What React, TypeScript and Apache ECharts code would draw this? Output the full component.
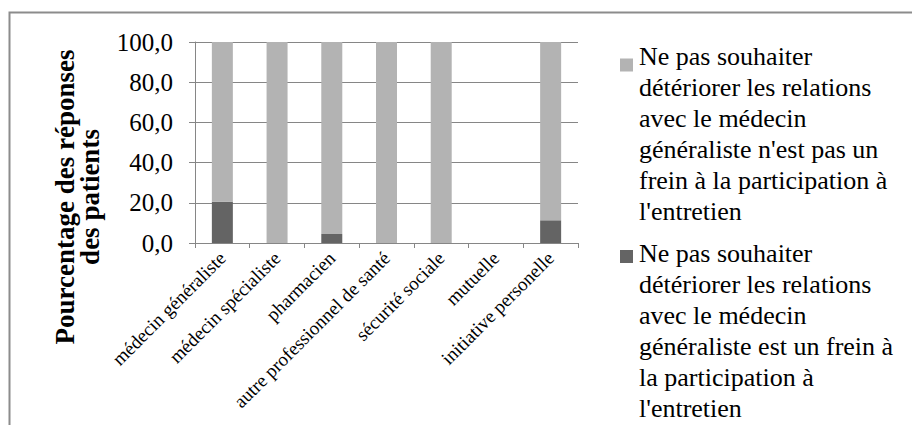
import React, { useEffect, useRef } from "react";
import * as echarts from "echarts";

const categories = [
  "médecin généraliste",
  "médecin spécialiste",
  "pharmacien",
  "autre professionnel de santé",
  "sécurité sociale",
  "mutuelle",
  "initiative personelle",
];
const freinValues = [20.6, 0, 4.5, 0, 0, 0, 11.3];
const pasFreinValues = [79.4, 100, 95.5, 100, 100, 0, 88.7];
const seriesNames = [
  "Ne pas souhaiter détériorer les relations avec le médecin généraliste n'est pas un frein à la participation à l'entretien",
  "Ne pas souhaiter détériorer les relations avec le médecin généraliste est un frein à la participation à l'entretien",
];
const legendLines1 = [
  "Ne pas souhaiter",
  "détériorer les relations",
  "avec le médecin",
  "généraliste n'est pas un",
  "frein à la participation à",
  "l'entretien",
];
const legendLines2 = [
  "Ne pas souhaiter",
  "détériorer les relations",
  "avec le médecin",
  "généraliste est un frein à",
  "la participation à",
  "l'entretien",
];
const yTitleLines = ["Pourcentage des réponses", "des patients"];

const FONT = "Liberation Serif, serif";
const LIGHT = "#b3b3b3";
const DARK = "#646464";
const GRID = "#868686";

export default function App() {
  const ref = useRef<HTMLDivElement>(null);
  useEffect(() => {
    if (!ref.current) return;
    const chart = echarts.init(ref.current, null, { renderer: "svg" });
    chart.setOption({
      animation: false,
      backgroundColor: "#ffffff",
      grid: { left: 195, top: 42, right: 334, bottom: 182, containLabel: false },
      xAxis: {
        type: "category",
        data: categories,
        axisLine: { show: true, lineStyle: { color: GRID, width: 1 } },
        axisTick: { show: true, length: 5, lineStyle: { color: GRID } },
        axisLabel: {
          interval: 0,
          rotate: 45,
          margin: 12,
          fontFamily: FONT,
          fontSize: 19,
          color: "#000",
        },
        splitLine: { show: false },
      },
      yAxis: {
        type: "value",
        min: 0,
        max: 100,
        interval: 20,
        axisLine: { show: true, lineStyle: { color: GRID, width: 1 } },
        axisTick: { show: true, length: 6, lineStyle: { color: GRID } },
        axisLabel: {
          margin: 22,
          fontFamily: FONT,
          fontSize: 25,
          color: "#000",
          formatter: (v: number) => v.toFixed(1).replace(".", ","),
        },
        splitLine: { show: true, lineStyle: { color: GRID, width: 1 } },
      },
      series: [
        {
          name: seriesNames[1],
          type: "bar",
          stack: "total",
          data: freinValues,
          barWidth: 21,
          itemStyle: { color: DARK },
        },
        {
          name: seriesNames[0],
          type: "bar",
          stack: "total",
          data: pasFreinValues,
          barWidth: 21,
          itemStyle: { color: LIGHT },
        },
      ],
      graphic: [
        {
          type: "rect",
          shape: { x: 9.5, y: 12.5, width: 920, height: 440 },
          style: { fill: "none", stroke: "#8c8c8c", lineWidth: 2 },
          silent: true,
        },
        {
          type: "text",
          x: 77,
          y: 197,
          rotation: Math.PI / 2,
          style: {
            text: yTitleLines.join("\n"),
            fontFamily: FONT,
            fontSize: 27,
            fontWeight: "bold",
            fill: "#000",
            align: "center",
            verticalAlign: "middle",
            lineHeight: 25,
          },
        },
        {
          type: "rect",
          shape: { x: 620, y: 58.5, width: 13, height: 13 },
          style: { fill: LIGHT },
        },
        {
          type: "text",
          x: 639,
          y: 41,
          style: {
            text: legendLines1.join("\n"),
            fontFamily: FONT,
            fontSize: 26,
            fill: "#000",
            align: "left",
            verticalAlign: "top",
            lineHeight: 31,
          },
        },
        {
          type: "rect",
          shape: { x: 620, y: 250, width: 13, height: 13 },
          style: { fill: DARK },
        },
        {
          type: "text",
          x: 639,
          y: 237.5,
          style: {
            text: legendLines2.join("\n"),
            fontFamily: FONT,
            fontSize: 26,
            fill: "#000",
            align: "left",
            verticalAlign: "top",
            lineHeight: 31,
          },
        },
      ],
    });
    return () => chart.dispose();
  }, []);
  return (
    <div
      ref={ref}
      style={{ position: "absolute", left: 0, top: 0, width: 912, height: 425, background: "#fff" }}
    />
  );
}
